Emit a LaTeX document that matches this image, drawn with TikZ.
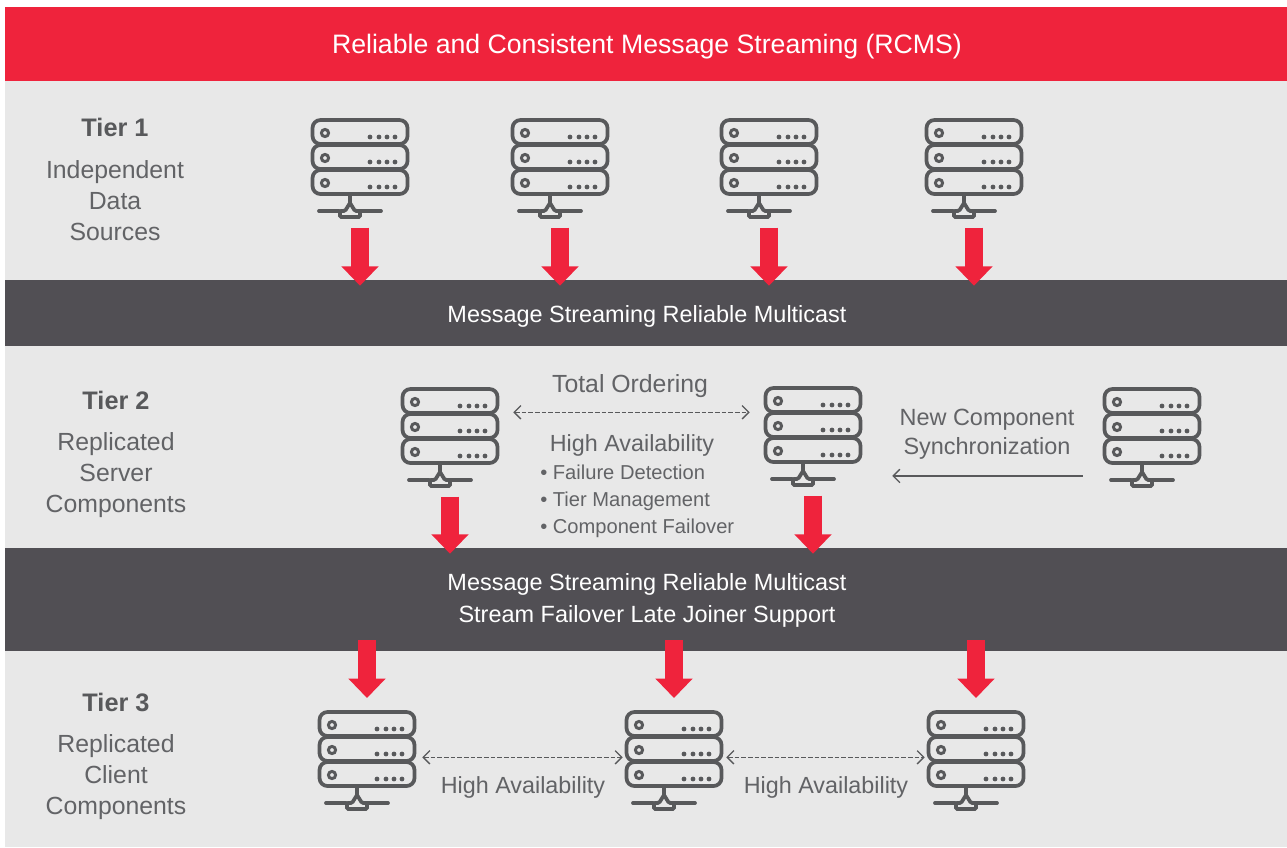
\documentclass[tikz,border=0pt]{standalone}
\usepackage{fontspec}
\usepackage{xcolor}
\usetikzlibrary{arrows.meta,positioning}
\setmainfont{Liberation Sans}

\definecolor{rcmsred}{HTML}{EF233C}
\definecolor{rcmsbar}{HTML}{514F54}
\definecolor{rcmspanel}{HTML}{E8E8E8}
\definecolor{rcmsicon}{HTML}{58595B}
\definecolor{rcmstext}{HTML}{626366}

\tikzset{
    % one server: three rows on a small network stand
    server/.pic={
        \node[minimum width=73.5pt, minimum height=73.5pt, inner sep=0pt, anchor=north] (-box) at (0,0) {};
        \foreach \row in {0,1,2} {
            \draw[iconline, rounded corners=6pt] (-47.5,\row*25+1) rectangle (47.5,\row*25+25);
            \draw[iconline, line width=2.2pt] (-35,\row*25+14) circle (3.6);
            \foreach \dot in {10,19,27,35} {
                \fill[rcmsicon] (\dot,\row*25+18) circle (2.4);
            }
        }
        \draw[iconline] (-10,75) -- (-10,84);
        \draw[iconline, line cap=round] (-41,92) -- (-21,92) (0,92) -- (21,92);
        \draw[iconline, rounded corners=1pt] (-10,84) -- (-15,92) -- (-20,92) -- (-20,98) -- (0,98) -- (0,92) -- (-5,92) -- cycle;
    },
    iconline/.style={draw=rcmsicon, line width=2.8pt},
    redarrow/.style={draw=rcmsred, line width=13.5pt, -{Triangle[width=27pt,length=14.5pt]}},
    dashedlink/.style={draw=rcmsicon, line width=1pt, dash pattern=on 3.5pt off 1.5pt, {Straight Barb[width=10pt,length=5pt]}-{Straight Barb[width=10pt,length=5pt]}},
    solidlink/.style={draw=rcmsicon, line width=1pt, -{Straight Barb[width=10pt,length=5pt]}},
    tierhead/.style={font=\fontsize{19pt}{23pt}\selectfont\bfseries, text=rcmsicon},
    tiertext/.style={font=\fontsize{18.6pt}{23.25pt}\selectfont, text=rcmstext, align=center},
    bartext/.style={font=\fontsize{17.6pt}{24pt}\selectfont, text=white, align=center},
    availtext/.style={font=\fontsize{17.5pt}{20pt}\selectfont, text=rcmstext},
    smalltext/.style={font=\fontsize{15.1pt}{20pt}\selectfont, text=rcmstext, align=left},
    barfill/.style={fill=rcmsbar, minimum width=961.5pt, inner sep=0pt}
}

\begin{document}
\begin{tikzpicture}[x=0.75pt,y=-0.75pt]
    \useasboundingbox (0,0) rectangle (1287,847);
    \fill[rcmspanel] (5,81) rectangle (1287,847);

    % title and the two dark bars
    \node[fill=rcmsred, minimum width=961.5pt, minimum height=55.5pt, inner sep=0pt,
        label={[yshift=-2.25pt, xshift=0.75pt, inner sep=0pt, text=white, font=\fontsize{20pt}{24pt}\selectfont]center:Reliable and Consistent Message Streaming (RCMS)}] (title) at (646,44) {};
    \node[barfill, minimum height=49.5pt,
        label={[yshift=-2.25pt, xshift=0.75pt, inner sep=0pt, bartext]center:Message Streaming Reliable Multicast}] (bar1) at (646,313) {};
    \node[barfill, minimum height=77.25pt,
        label={[yshift=-0.75pt, xshift=0.75pt, inner sep=0pt, bartext]center:{Message Streaming Reliable Multicast\\Stream Failover Late Joiner Support}}] (bar2) at (646,599.5) {};

    % tier 1
    \node[tierhead] (tier1) at (115,127) {Tier 1};
    \node[tiertext] (tier1text) at (115,201) {Independent\\Data\\Sources};
    \pic (t1a) at (360,119) {server};
    \pic (t1b) at (560,119) {server};
    \pic (t1c) at (769,119) {server};
    \pic (t1d) at (974,119) {server};
    \foreach \src in {t1a,t1b,t1c,t1d} {
        \draw[redarrow] ([yshift=-7.5pt]\src-box.south) -- ([yshift=-4.5pt]\src-box.south |- bar1.north);
    }

    % tier 2
    \node[tierhead] (tier2) at (116,400) {Tier 2};
    \node[tiertext] (tier2text) at (116,475) {Replicated\\Server\\Components};
    \pic (t2a) at (450,388) {server};
    \pic (t2b) at (813,387) {server};
    \pic (t2c) at (1152,388) {server};
    \foreach \src in {t2a,t2b} {
        \draw[redarrow] ([yshift=-7.5pt]\src-box.south) -- ([yshift=-4.5pt]\src-box.south |- bar2.north);
    }
    \coordinate (orderfrom) at ([xshift=10.5pt,yshift=18.75pt]t2a-box.east);
    \coordinate (syncfrom) at ([xshift=-15pt,yshift=-29pt]t2c-box.west);
    \draw[dashedlink] (orderfrom) -- ([xshift=-10.5pt]t2b-box.west |- orderfrom);
    \draw[solidlink] (syncfrom) -- ([xshift=22.5pt]t2b-box.east |- syncfrom);
    \node[tiertext] (ordering) at (630,386) {Total Ordering};
    \node[availtext] (avail) at (632,445) {High Availability};
    \node[smalltext, anchor=north west, inner sep=0pt] (bullets) at (540,465) {\textbullet\ Failure Detection\\\textbullet\ Tier Management\\\textbullet\ Component Failover};
    \node[font=\fontsize{17.6pt}{22pt}\selectfont, text=rcmstext, align=center] (newcomp) at (987,434) {New Component\\Synchronization};

    % tier 3
    \node[tierhead] (tier3) at (116,702) {Tier 3};
    \node[tiertext] (tier3text) at (116,777) {Replicated\\Client\\Components};
    \pic (t3a) at (367,711) {server};
    \pic (t3b) at (674,711) {server};
    \pic (t3c) at (976,711) {server};
    \foreach \dst in {t3a,t3b,t3c} {
        \draw[redarrow] ([yshift=8.25pt]\dst-box.north |- bar2.south) -- ([yshift=9.75pt]\dst-box.north);
    }
    \draw[dashedlink] ([xshift=4.5pt,yshift=2.25pt]t3a-box.east) -- ([xshift=-1.5pt,yshift=2.25pt]t3b-box.west);
    \draw[dashedlink] ([xshift=2.25pt,yshift=2.25pt]t3b-box.east) -- ([xshift=-1.5pt,yshift=2.25pt]t3c-box.west);
    \node[availtext] (avail1) at (523,787) {High Availability};
    \node[availtext] (avail2) at (826,787) {High Availability};
\end{tikzpicture}
\end{document}
